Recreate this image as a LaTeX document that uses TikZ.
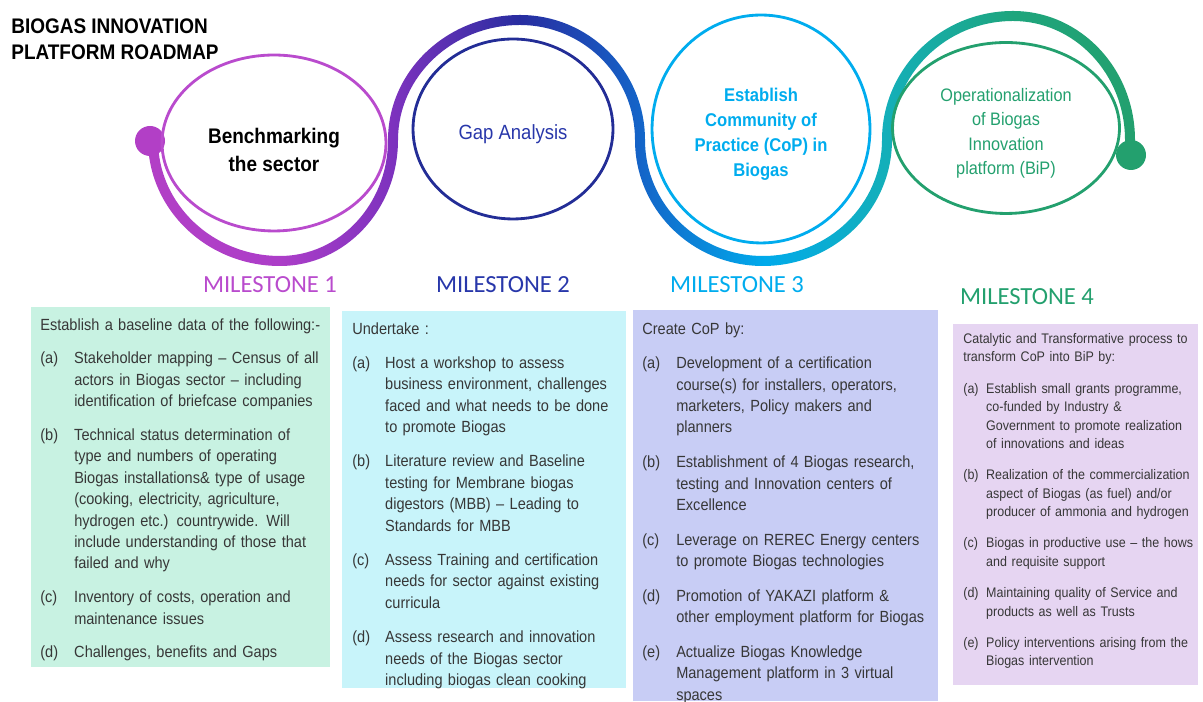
\documentclass[tikz,border=0pt]{standalone}
\usepackage{fontspec}
\setmainfont{Liberation Sans}[FakeStretch=0.9]
\newfontfamily\milefont{Carlito}
\usetikzlibrary{shapes.geometric,positioning}

% colours of the road
\definecolor{rb1}{RGB}{178,63,198}
\definecolor{rb2}{RGB}{172,62,200}
\definecolor{rb3}{RGB}{125,50,190}
\definecolor{rb4}{RGB}{40,45,160}
\definecolor{rb5}{RGB}{20,100,200}
\definecolor{rb6}{RGB}{0,170,235}
\definecolor{rb7}{RGB}{20,175,185}
\definecolor{rb8}{RGB}{30,165,125}
\definecolor{rb9}{RGB}{35,160,110}
% rings and labels
\definecolor{ringmag}{RGB}{185,75,205}
\definecolor{ringnavy}{RGB}{35,45,150}
\definecolor{txtnavy}{RGB}{40,55,170}
\definecolor{ringsky}{RGB}{0,172,238}
\definecolor{ringgreen}{RGB}{35,160,110}
% panels
\definecolor{boxtext}{RGB}{55,55,55}
\definecolor{fillmint}{RGB}{200,242,226}
\definecolor{fillcyan}{RGB}{200,244,250}
\definecolor{fillblue}{RGB}{200,205,245}
\definecolor{filllilac}{RGB}{230,213,242}

\pgfdeclarehorizontalshading{ribbonshade}{100bp}{color(0bp)=(rb1); color(25bp)=(rb1);
  color(31.7bp)=(rb2); color(37.4bp)=(rb3); color(43.8bp)=(rb4); color(49.9bp)=(rb5);
  color(56.2bp)=(rb6); color(62.4bp)=(rb7); color(68.8bp)=(rb8); color(75bp)=(rb9);
  color(100bp)=(rb9)}

\newlength\labw
\newlength\itemgap
\newcommand{\litem}[2]{\par\vspace{\itemgap}\hangindent=\labw\hangafter=1\noindent\makebox[\labw][l]{#1}#2}

\begin{document}
\begin{tikzpicture}[x=0.02cm, y=0.02cm,
    ring/.style={ellipse, draw=#1, line width=1.6pt, inner sep=0pt},
    ringtext/.style={inner sep=0pt, align=center, text=#1},
    panel/.style={rectangle, fill=#1, inner sep=0pt, anchor=north west},
    listtext/.style={anchor=north west, inner sep=0pt, text width=#1, align=left, text=boxtext},
    mslabel/.style={font=\milefont\fontsize{14}{16}\selectfont, text=#1}]

    \useasboundingbox (0,0) rectangle (1203,702);

    % Title
    \node[anchor=north west, inner sep=0pt, align=left, font=\bfseries\fontsize{12}{15.3}\selectfont] (title) at (11,684) {BIOGAS INNOVATION\\PLATFORM ROADMAP};

    % The winding road
    \shade[shading=ribbonshade]
        (158,562) arc(180:270:122 and 116) arc(270:360:108 and 116)
        arc(180:90:132 and 125) arc(90:0:125 and 125)
        arc(180:270:118 and 116) arc(270:360:119 and 116)
        arc(180:90:131 and 129) arc(90:0:122 and 129)
        -- (1135,548) -- (1125,548) -- (1125,562)
        arc(0:90:112 and 119) arc(90:180:121 and 119)
        arc(360:270:129 and 126) arc(270:180:128 and 126)
        arc(0:90:115 and 115) arc(90:180:122 and 115)
        arc(360:270:118 and 126) arc(270:180:132 and 126)
        -- cycle;
    \fill[rb1] (150,561) circle (15);
    \fill[rb9] (1131,547) circle (15);

    % Milestone rings
    \node[ring=ringmag, minimum width=4.48cm, minimum height=3.52cm] (bench) at (274,559) {};
    \node[ring=ringnavy, minimum width=4.0cm, minimum height=3.6cm] (gap) at (513,573) {};
    \node[ring=ringsky, minimum width=4.36cm, minimum height=4.56cm] (cop) at (761,573) {};
    \node[ring=ringgreen, minimum width=4.54cm, minimum height=3.42cm] (bip) at (1006,574) {};

    \node[ringtext=black, font=\bfseries\fontsize{12}{15.9}\selectfont] (bench text) at ([yshift=-4]bench.center) {Benchmarking\\the sector};
    \node[ringtext=txtnavy, font=\fontsize{11.7}{14}\selectfont] (gap text) at ([yshift=-3]gap.center) {Gap Analysis};
    \node[ringtext=ringsky, font=\bfseries\fontsize{10.5}{14.2}\selectfont] (cop text) at ([yshift=-3]cop.center) {Establish\\Community of\\Practice (CoP) in\\Biogas};
    \node[ringtext=ringgreen, font=\fontsize{10.3}{13.9}\selectfont] (bip text) at ([yshift=-3]bip.center) {Operationalization\\of Biogas\\Innovation\\platform (BiP)};

    % Milestone labels
    \node[mslabel=ringmag] (ms1) at (270,417) {MILESTONE 1};
    \node[mslabel=txtnavy] (ms2) at (503,417) {MILESTONE 2};
    \node[mslabel=ringsky] (ms3) at (737,417) {MILESTONE 3};
    \node[mslabel=ringgreen] (ms4) at (1027,405) {MILESTONE 4};

    % Panels
    \node[panel=fillmint, minimum width=5.98cm, minimum height=7.2cm] (box1) at (31,395) {};
    \node[panel=fillcyan, minimum width=5.68cm, minimum height=7.54cm] (box2) at (342,391) {};
    \node[panel=fillblue, minimum width=6.1cm, minimum height=7.82cm] (box3) at (633,392) {};
    \node[panel=filllilac, minimum width=4.9cm, minimum height=7.22cm] (box4) at (953,378) {};

    % Panel texts
    \node[listtext=5.9cm, font=\fontsize{9.2}{12.2}\selectfont] (list1) at ([shift={(9,-11)}]box1.north west) {%
        \setlength\labw{19.3pt}\setlength\itemgap{7pt}%
        Establish a baseline data of the following:-
        \litem{(a)}{Stakeholder mapping – Census of all\newline actors in Biogas sector – including\newline identification of briefcase companies}
        \litem{(b)}{Technical status determination of\newline type and numbers of operating\newline Biogas installations\& type of usage\newline (cooking, electricity, agriculture,\newline hydrogen etc.) countrywide. Will\newline include understanding of those that\newline failed and why}
        \litem{(c)}{Inventory of costs, operation and\newline maintenance issues}
        \litem{(d)}{Challenges, benefits and Gaps}\par};
    \node[listtext=5.6cm, font=\fontsize{9.2}{12.2}\selectfont] (list2) at ([shift={(10,-11)}]box2.north west) {%
        \setlength\labw{18.7pt}\setlength\itemgap{7.3pt}%
        Undertake :
        \litem{(a)}{Host a workshop to assess\newline business environment, challenges\newline faced and what needs to be done\newline to promote Biogas}
        \litem{(b)}{Literature review and Baseline\newline testing for Membrane biogas\newline digestors (MBB) – Leading to\newline Standards for MBB}
        \litem{(c)}{Assess Training and certification\newline needs for sector against existing\newline curricula}
        \litem{(d)}{Assess research and innovation\newline needs of the Biogas sector\newline including biogas clean cooking}\par};
    \node[listtext=6.0cm, font=\fontsize{9.2}{12.2}\selectfont] (list3) at ([shift={(9,-12)}]box3.north west) {%
        \setlength\labw{19.3pt}\setlength\itemgap{7.5pt}%
        Create CoP by:
        \litem{(a)}{Development of a certification\newline course(s) for installers, operators,\newline marketers, Policy makers and\newline planners}
        \litem{(b)}{Establishment of 4 Biogas research,\newline testing and Innovation centers of\newline Excellence}
        \litem{(c)}{Leverage on REREC Energy centers\newline to promote Biogas technologies}
        \litem{(d)}{Promotion of YAKAZI platform \&\newline other employment platform for Biogas}
        \litem{(e)}{Actualize Biogas Knowledge\newline Management platform in 3 virtual\newline spaces}\par};
    \node[listtext=4.8cm, font=\fontsize{7.9}{10.5}\selectfont] (list4) at ([shift={(10,-9)}]box4.north west) {%
        \setlength\labw{13pt}\setlength\itemgap{7.3pt}%
        Catalytic and Transformative process to\newline transform CoP into BiP by:
        \litem{(a)}{Establish small grants programme,\newline co-funded by Industry \&\newline Government to promote realization\newline of innovations and ideas}
        \litem{(b)}{Realization of the commercialization\newline aspect of Biogas (as fuel) and/or\newline producer of ammonia and hydrogen}
        \litem{(c)}{Biogas in productive use – the hows\newline and requisite support}
        \litem{(d)}{Maintaining quality of Service and\newline products as well as Trusts}
        \litem{(e)}{Policy interventions arising from the\newline Biogas intervention}\par};
\end{tikzpicture}
\end{document}
